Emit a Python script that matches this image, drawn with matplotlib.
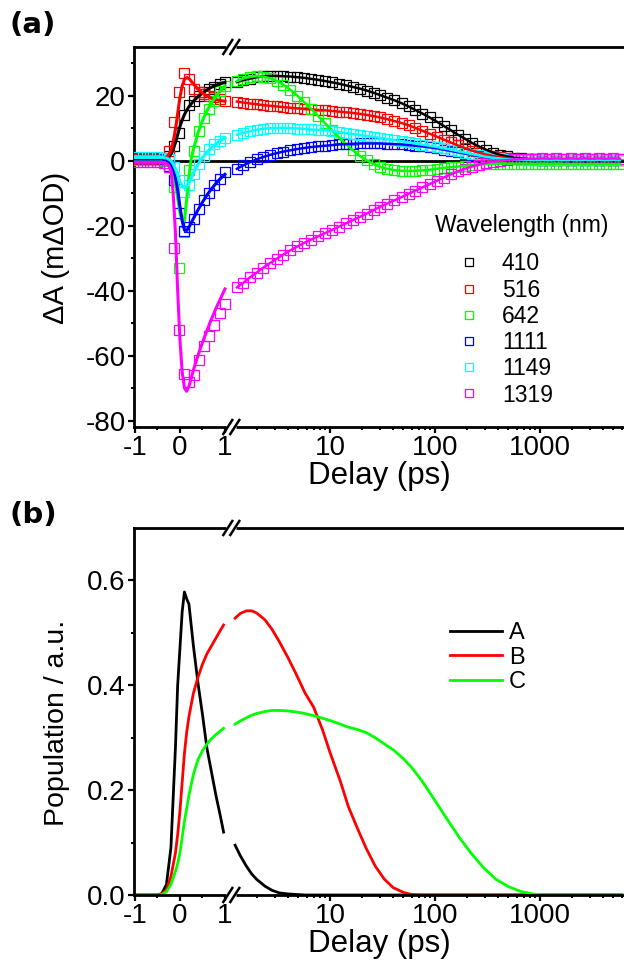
import numpy as np
import matplotlib
matplotlib.use("Agg")
import matplotlib.pyplot as plt
from matplotlib import font_manager
from matplotlib.lines import Line2D
from matplotlib.ticker import FixedLocator, FixedFormatter

_names = {f.name for f in font_manager.fontManager.ttflist}
BASE = next((n for n in ['Liberation Sans', 'Arimo', 'Arial', 'Helvetica'] if n in _names), 'DejaVu Sans')
plt.rcParams['font.family'] = [BASE, 'DejaVu Sans']
plt.rcParams['axes.unicode_minus'] = False

# ---------------- data: panel (a) ----------------
wavelengths = ['410', '516', '642', '1111', '1149', '1319']
colors = ['#000000', '#ff0000', '#00ff00', '#0000ff', '#00ffff', '#ff00ff']

# early-time (linear) part: fitted curves
t_fit_lin = [-1.0, -0.7, -0.4, -0.3, -0.25, -0.2, -0.15, -0.1, -0.05, 0.0, 0.05, 0.1,
             0.15, 0.2, 0.25, 0.3, 0.4, 0.5, 0.6, 0.7, 0.8, 0.9, 1.0]
fit_410 = [0.5, 0.5, 0.5, 0.8, 1.2, 2.0, 3.5, 5.5, 8.0, 10.5, 12.5, 14.2, 15.5, 16.6, 17.5, 18.3, 19.7, 20.8, 21.8, 22.6, 23.2, 23.7, 24.1]
fit_516 = [0.5, 0.5, 0.5, 1.0, 1.8, 3.2, 5.8, 9.5, 14.5, 19.5, 23.0, 25.0, 25.6, 25.3, 24.5, 23.6, 22.0, 20.8, 19.9, 19.2, 18.8, 18.5, 18.3]
fit_642 = [0.3, 0.3, 0.3, 0.0, -0.5, -1.5, -3.5, -7.0, -11.5, -16.0, -18.5, -18.5, -12.0, -5.0, 0.5, 3.5, 8.5, 12.3, 15.3, 17.8, 19.8, 21.5, 23.0]
fit_1111 = [0.5, 0.5, 0.5, 0.2, -0.3, -1.0, -2.5, -5.0, -9.0, -14.0, -18.5, -21.3, -21.5, -20.5, -19.2, -17.8, -15.2, -12.8, -10.6, -8.7, -7.0, -5.5, -4.2]
fit_1149 = [1.0, 1.0, 1.0, 0.8, 0.5, 0.0, -1.0, -2.5, -4.5, -6.5, -7.8, -8.3, -8.0, -6.8, -5.3, -3.8, -1.2, 0.9, 2.6, 4.0, 5.2, 6.2, 7.0]
fit_1319 = [-0.5, -0.5, -0.5, -1.0, -1.5, -3.0, -10.0, -22.0, -40.0, -55.0, -65.0, -70.0, -71.0, -69.5, -67.0, -64.5, -60.0, -56.0, -52.3, -48.8, -45.5, -42.5, -39.5]

# early-time (linear) part: measured points
t_sq_lin = [-0.96, -0.81, -0.66, -0.51, -0.36, -0.24, -0.13, -0.02, 0.1, 0.2, 0.32, 0.43, 0.54, 0.65, 0.76, 0.88, 1.0]
sq_410 = [0.5, 0.5, 0.5, 0.5, 0.6, 1.5, 4.5, 8.5, 14.0, 17.0, 18.5, 20.0, 21.0, 22.0, 22.8, 23.5, 24.3]
sq_516 = [0.5, 0.5, 0.5, 0.5, 0.8, 3.0, 12.0, 21.0, 27.0, 25.0, 22.0, 21.0, 20.5, 20.0, 19.5, 19.0, 18.5]
sq_642 = [0.3, 0.3, 0.3, 0.3, 0.0, -1.5, -8.0, -33.0, -22.0, -3.0, 3.0, 9.0, 13.0, 16.0, 18.5, 21.3, 23.0]
sq_1111 = [0.8, 0.8, 0.8, 0.8, 0.5, -1.5, -6.0, -16.0, -21.5, -20.5, -18.0, -15.0, -12.0, -10.0, -7.5, -5.5, -3.5]
sq_1149 = [1.0, 1.0, 1.0, 1.0, 0.8, 0.5, -2.0, -6.0, -9.5, -7.5, -4.0, -1.0, 1.5, 3.5, 5.0, 6.0, 7.0]
sq_1319 = [-0.5, -0.5, -0.5, -0.5, -0.8, -2.0, -27.0, -52.0, -65.6, -68.0, -66.0, -61.5, -57.0, -54.0, -50.5, -47.0, -44.0]

# late-time (log) part
t_log = [1.3, 1.5, 1.75, 2.0, 2.3, 2.7, 3.1, 3.6, 4.2, 4.9,
         5.7, 6.6, 7.7, 9.0, 10.5, 12.2, 14.2, 16.5, 19.2, 22.4,
         26, 30, 35, 41, 48, 56, 65, 76, 89, 104,
         121, 141, 165, 192, 224, 262, 305, 356, 415, 485,
         565, 660, 770, 900, 1050, 1230, 1430, 1670, 1950, 2280,
         2660, 3100, 3620, 4220, 4930, 5750]
log_410 = [24.2, 24.8, 25.3, 25.7, 26.0, 26.1, 26.1, 26.0, 25.9, 25.7,
           25.5, 25.2, 24.9, 24.5, 24.1, 23.7, 23.2, 22.7, 22.2, 21.6,
           20.9, 20.2, 19.4, 18.6, 17.7, 16.7, 15.6, 14.5, 13.3, 12.0,
           10.7, 9.4, 8.0, 6.8, 5.5, 4.4, 3.4, 2.5, 1.8, 1.3,
           0.9, 0.7, 0.5, 0.4, 0.3, 0.3, 0.2, 0.3, 0.2, 0.3,
           0.2, 0.3, 0.2, 0.3, 0.2, 0.3]
log_516 = [18.2, 17.9, 17.6, 17.4, 17.1, 16.9, 16.7, 16.5, 16.3, 16.1,
           15.9, 15.8, 15.6, 15.5, 15.3, 15.1, 14.9, 14.7, 14.4, 14.1,
           13.7, 13.3, 12.8, 12.2, 11.6, 10.9, 10.1, 9.2, 8.3, 7.4,
           6.5, 5.6, 4.7, 3.9, 3.1, 2.5, 1.9, 1.4, 1.1, 0.8,
           0.6, 0.5, 0.4, 0.3, 0.3, 0.2, 0.3, 0.2, 0.3, 0.2,
           0.3, 0.2, 0.3, 0.2, 0.3, 0.2]
log_642 = [24.5, 25.3, 25.8, 26.0, 25.9, 25.4, 24.6, 23.4, 21.8, 20.0,
           18.0, 16.0, 13.8, 11.5, 9.3, 7.1, 5.1, 3.2, 1.5, 0.1,
           -1.0, -1.9, -2.5, -2.9, -3.1, -3.2, -3.1, -3.0, -2.8, -2.5,
           -2.2, -2.0, -1.8, -1.6, -1.4, -1.2, -1.1, -1.0, -0.9, -0.9,
           -0.9, -0.9, -0.9, -1.0, -0.9, -1.0, -0.9, -1.0, -1.1, -1.0,
           -1.1, -1.0, -1.1, -1.0, -1.1, -1.0]
log_1111 = [-2.5, -1.4, -0.4, 0.4, 1.1, 1.8, 2.3, 2.8, 3.2, 3.6,
            3.9, 4.2, 4.4, 4.6, 4.8, 5.0, 5.1, 5.2, 5.3, 5.3,
            5.3, 5.3, 5.2, 5.1, 5.0, 4.8, 4.6, 4.4, 4.1, 3.8,
            3.4, 3.0, 2.6, 2.2, 1.8, 1.4, 1.1, 0.9, 0.7, 0.6,
            0.5, 0.5, 0.4, 0.4, 0.3, 0.4, 0.3, 0.4, 0.3, 0.4,
            0.3, 0.4, 0.3, 0.4, 0.3, 0.4]
log_1149 = [8.0, 8.6, 9.1, 9.5, 9.8, 10.0, 10.1, 10.1, 10.0, 9.9,
            9.8, 9.6, 9.5, 9.3, 9.1, 8.8, 8.5, 8.2, 7.9, 7.6,
            7.3, 7.0, 6.7, 6.3, 6.0, 5.6, 5.3, 4.9, 4.6, 4.2,
            3.8, 3.4, 2.9, 2.5, 2.0, 1.6, 1.2, 0.9, 0.7, 0.5,
            0.4, 0.3, 0.3, 0.2, 0.3, 0.2, 0.3, 0.2, 0.3, 0.2,
            0.3, 0.2, 0.3, 0.2, 0.3, 0.2]
log_1319 = [-39.0, -37.6, -35.8, -34.5, -33.0, -31.5, -30.2, -28.9, -27.6, -26.4,
            -25.3, -24.3, -23.3, -22.3, -21.3, -20.3, -19.3, -18.3, -17.3, -16.3,
            -15.2, -14.2, -13.2, -12.2, -11.2, -10.2, -9.2, -8.2, -7.2, -6.2,
            -5.2, -4.2, -3.3, -2.5, -1.8, -1.2, -0.7, -0.3, 0.0, 0.2,
            0.4, 0.5, 0.6, 0.6, 0.7, 0.6, 0.7, 0.6, 0.7, 0.6,
            0.7, 0.6, 0.7, 0.6, 0.7, 0.6]

fits_lin = [fit_410, fit_516, fit_642, fit_1111, fit_1149, fit_1319]
sqs_lin = [sq_410, sq_516, sq_642, sq_1111, sq_1149, sq_1319]
logs = [log_410, log_516, log_642, log_1111, log_1149, log_1319]

# ---------------- data: panel (b) ----------------
species = ['A', 'B', 'C']
species_colors = ['#000000', '#ff0000', '#00ff00']
t_b_lin = [-1.0, -0.5, -0.4, -0.3, -0.2, -0.1, -0.05, 0.0, 0.05, 0.1, 0.15, 0.2,
           0.3, 0.4, 0.5, 0.6, 0.7, 0.8, 0.9, 0.97]
pop_A_lin = [0, 0, 0.003, 0.02, 0.09, 0.28, 0.40, 0.47, 0.54, 0.578, 0.565, 0.555,
             0.475, 0.405, 0.345, 0.28, 0.235, 0.19, 0.15, 0.12]
pop_B_lin = [0, 0, 0.002, 0.01, 0.035, 0.08, 0.115, 0.16, 0.215, 0.27, 0.31, 0.34,
             0.385, 0.415, 0.44, 0.46, 0.475, 0.49, 0.505, 0.515]
pop_C_lin = [0, 0, 0.001, 0.006, 0.02, 0.045, 0.06, 0.08, 0.11, 0.14, 0.165, 0.19,
             0.23, 0.258, 0.275, 0.288, 0.298, 0.306, 0.313, 0.318]
t_b_log = [1.25, 1.4, 1.6, 1.8, 2.0, 2.4, 2.8, 3.3, 4.0, 4.8, 5.8, 7.0, 8.5, 10, 12.5,
           15, 18, 22, 27, 33, 40, 50, 60, 75, 100, 130, 170, 220, 290, 380, 500, 650,
           850, 1100, 1500, 2500, 6000]
pop_A_log = [0.095, 0.075, 0.055, 0.04, 0.03, 0.017, 0.009, 0.004, 0.002, 0.001, 0, 0, 0, 0, 0,
             0, 0, 0, 0, 0, 0, 0, 0, 0, 0, 0, 0, 0, 0, 0, 0, 0,
             0, 0, 0, 0, 0]
pop_B_log = [0.528, 0.537, 0.542, 0.542, 0.538, 0.525, 0.507, 0.483, 0.452, 0.42, 0.385, 0.358, 0.315, 0.272, 0.218,
             0.168, 0.13, 0.09, 0.055, 0.03, 0.014, 0.005, 0.001, 0, 0, 0, 0, 0, 0, 0, 0, 0,
             0, 0, 0, 0, 0]
pop_C_log = [0.326, 0.332, 0.338, 0.343, 0.346, 0.35, 0.352, 0.352, 0.351, 0.349, 0.346, 0.342, 0.337, 0.333, 0.326,
             0.32, 0.316, 0.31, 0.3, 0.288, 0.277, 0.26, 0.243, 0.218, 0.18, 0.145, 0.11, 0.08, 0.052, 0.03, 0.016, 0.007,
             0.002, 0, 0, 0, 0]
pops_lin = [pop_A_lin, pop_B_lin, pop_C_lin]
pops_log = [pop_A_log, pop_B_log, pop_C_log]

x_major = [-1, 0, 1, 10, 100, 1000]
x_major_labels = ['-1', '0', '1', '10', '100', '1000']
x_minor = [-0.5, 0.5] + [m * 10 ** k for k in range(4) for m in range(2, 10)]
x_break = 1.15

# ---------------- broken (linear | log) axis ----------------
K = 105.0 / 45.0


def fwd(x):
    x = np.asarray(x, dtype=float)
    safe = np.where(x > 1, x, 1.0)
    return np.where(x <= 1, x, 1 + np.log10(safe) * K)


def inv(y):
    y = np.asarray(y, dtype=float)
    safe = np.where(y > 1, y, 1.0)
    return np.where(y <= 1, y, 10 ** ((safe - 1) / K))


W, H = 624, 969
fig = plt.figure(figsize=(W / 100, H / 100), dpi=100)


def make_axes(top_px, bot_px):
    ax = fig.add_axes([134 / W, 1 - bot_px / H, (W - 134) / W, (bot_px - top_px) / H])
    ax.set_xscale('function', functions=(fwd, inv))
    ax.set_xlim(-1.02, 6300)
    ax.xaxis.set_major_locator(FixedLocator(x_major))
    ax.xaxis.set_major_formatter(FixedFormatter(x_major_labels))
    ax.xaxis.set_minor_locator(FixedLocator(x_minor))
    ax.spines['right'].set_visible(False)
    for s in ['left', 'bottom', 'top']:
        ax.spines[s].set_linewidth(2.0)
    ax.tick_params(which='major', direction='out', length=4.5, width=1.6, labelsize=20, pad=1.5)
    ax.tick_params(which='minor', direction='out', length=2.5, width=1.4)
    ax.tick_params(top=False, right=False)
    return ax


def draw_break(ax):
    cx = ax.transAxes.inverted().transform(ax.transData.transform((x_break, 0)))[0]
    bb = ax.get_position()
    wpx, hpx = bb.width * W, bb.height * H
    for yb in (0.0, 1.0):
        ax.plot([cx - 5 / wpx, cx + 5 / wpx], [yb, yb], color='white', lw=3.5,
                transform=ax.transAxes, clip_on=False, zorder=10, solid_capstyle='butt')
        for off in (-3.5, 3.5):
            ax.plot([cx + (off - 4.5) / wpx, cx + (off + 4.5) / wpx],
                    [yb - 7 / hpx, yb + 7 / hpx], color='black', lw=1.8,
                    transform=ax.transAxes, clip_on=False, zorder=11)


# ---------------- panel (a) ----------------
axa = make_axes(47, 427)
axa.set_ylim(-82, 35)
axa.yaxis.set_major_locator(FixedLocator([20, 0, -20, -40, -60, -80]))
axa.yaxis.set_minor_locator(FixedLocator([30, 10, -10, -30, -50, -70]))
axa.axhline(0, color='black', lw=2.0, zorder=1)

handles = []
for wl, c, fl, sl, lg in zip(wavelengths, colors, fits_lin, sqs_lin, logs):
    axa.plot(t_sq_lin, sl, ls='none', marker='s', ms=6.5, mfc='none', mec=c, mew=0.9, zorder=3)
    axa.plot(t_log, lg, ls='none', marker='s', ms=6.5, mfc='none', mec=c, mew=0.9, zorder=3)
    axa.plot(t_fit_lin, fl, color=c, lw=2.2, zorder=4)
    axa.plot(t_log, lg, color=c, lw=1.8, zorder=4)
    handles.append(Line2D([], [], ls='none', marker='s', ms=6, mfc='none', mec=c, mew=0.9))

axa.set_xlabel('Delay (ps)', fontsize=22.5, labelpad=0)
axa.set_ylabel('ΔA (mΔOD)', fontsize=21, labelpad=9)
axa.yaxis.set_label_coords(-0.13, 0.47)
leg = axa.legend(handles, wavelengths, title='Wavelength (nm)', loc='upper left',
                 bbox_to_anchor=(0.615, 0.56), frameon=False, fontsize=16.5,
                 title_fontsize=16.5, handlelength=2.9, handletextpad=0.0,
                 labelspacing=0.14, borderpad=0, borderaxespad=0, alignment='left')
leg._legend_box.sep = 11
draw_break(axa)

# ---------------- panel (b) ----------------
axb = make_axes(528, 895)
axb.set_ylim(0, 0.7)
axb.yaxis.set_major_locator(FixedLocator([0.0, 0.2, 0.4, 0.6]))
axb.yaxis.set_major_formatter(FixedFormatter(['0.0', '0.2', '0.4', '0.6']))
axb.yaxis.set_minor_locator(FixedLocator([0.1, 0.3, 0.5]))
for sp, c, pl, pg in zip(species, species_colors, pops_lin, pops_log):
    axb.plot(t_b_lin, pl, color=c, lw=2.0, label=sp)
    axb.plot(t_b_log, pg, color=c, lw=2.0)
axb.set_xlabel('Delay (ps)', fontsize=22.5, labelpad=0)
axb.set_ylabel('Population / a.u.', fontsize=20.5, labelpad=9)
axb.yaxis.set_label_coords(-0.13, 0.47)
axb.legend(loc='upper left', bbox_to_anchor=(0.645, 0.743), frameon=False, fontsize=17,
           handlelength=2.2, handletextpad=0.3, labelspacing=0.1, borderpad=0, borderaxespad=0)
draw_break(axb)

fig.text(10 / W, 1 - 25 / H, '(a)', fontsize=21, fontweight='bold', family=['DejaVu Sans'],
         va='center', ha='left')
fig.text(10 / W, 1 - 515 / H, '(b)', fontsize=21, fontweight='bold', family=['DejaVu Sans'],
         va='center', ha='left')

fig.savefig('out.png', dpi=100)
